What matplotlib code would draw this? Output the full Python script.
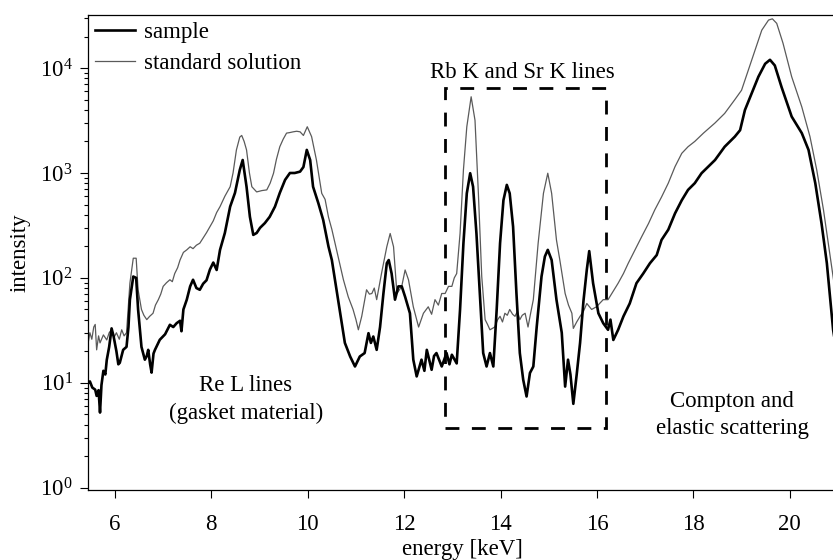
import math
import matplotlib
matplotlib.use("Agg")
import matplotlib.pyplot as plt
from matplotlib.patches import Rectangle
from matplotlib.ticker import FixedLocator, FuncFormatter, NullFormatter

plt.rcParams['font.family'] = ['Liberation Serif', 'DejaVu Serif']
plt.rcParams['mathtext.fontset'] = 'stix'

# sample spectrum (energy in keV, intensity in counts)
sample_e = [5.45, 5.48, 5.53, 5.59, 5.62, 5.66, 5.69, 5.72, 5.76, 5.80, 5.83, 5.88, 5.93, 5.97,
            6.03, 6.07, 6.10, 6.17, 6.24, 6.28, 6.31, 6.38, 6.44, 6.48, 6.55, 6.62, 6.66, 6.69,
            6.73, 6.76, 6.80, 6.83, 6.93, 7.04, 7.14, 7.21, 7.28, 7.35, 7.38, 7.42, 7.49, 7.56,
            7.62, 7.69, 7.76, 7.83, 7.90, 7.97, 8.04, 8.11, 8.18, 8.28, 8.39, 8.49, 8.59, 8.65,
            8.73, 8.80, 8.87, 8.94, 9.01, 9.11, 9.21, 9.32, 9.42, 9.53, 9.63, 9.73, 9.84, 9.91,
            9.98, 10.05, 10.11, 10.22, 10.32, 10.43, 10.50, 10.63, 10.77, 10.88, 10.98, 11.03,
            11.08, 11.18, 11.26, 11.31, 11.36, 11.43, 11.50, 11.57, 11.64, 11.68, 11.74, 11.81,
            11.88, 11.95, 12.02, 12.12, 12.19, 12.26, 12.36, 12.42, 12.47, 12.57, 12.62, 12.67,
            12.78, 12.88, 12.94, 12.99, 13.09, 13.16, 13.23, 13.30, 13.37, 13.43, 13.50, 13.57,
            13.64, 13.71, 13.78, 13.85, 13.92, 13.99, 14.06, 14.13, 14.19, 14.26, 14.33, 14.40,
            14.47, 14.54, 14.61, 14.68, 14.75, 14.85, 14.92, 14.98, 15.06, 15.16, 15.27, 15.34,
            15.40, 15.45, 15.51, 15.58, 15.65, 15.72, 15.79, 15.84, 15.92, 16.03, 16.13, 16.23,
            16.28, 16.34, 16.44, 16.55, 16.68, 16.82, 16.96, 17.10, 17.24, 17.34, 17.48, 17.62,
            17.76, 17.89, 18.03, 18.17, 18.24, 18.45, 18.65, 18.86, 18.97, 19.07, 19.21, 19.35,
            19.49, 19.59, 19.69, 19.83, 20.04, 20.25, 20.39, 20.53, 20.66, 20.77, 20.84, 20.90,
            20.97]
sample_i = [10, 10.3, 9.0, 8.6, 7.5, 8.5, 5.2, 9.5, 13, 12, 16.5, 22, 33, 28,
            20, 15, 15.5, 20.6, 22, 34, 62, 103, 100, 50, 22, 16.6, 18, 20.6,
            15, 12.5, 19, 20.6, 25.7, 29, 35.7, 34, 37, 39, 31, 50, 62, 83,
            96, 80, 77, 88, 95, 120, 140, 119, 185, 268, 478, 646, 1070, 1330,
            740, 382, 257, 268, 300, 333, 382, 478, 646, 860, 1000, 1000, 1030, 1140,
            1660, 1330, 740, 515, 357, 199, 148, 62, 24, 17.8, 14.3, 16,
            17.8, 19.2, 29.7, 24, 27.6, 20.6, 34, 71, 138, 148, 110, 62,
            83, 83, 66, 46, 16.6, 11.5, 16.6, 13, 20.6, 13.3, 18, 19.2,
            14.3, 19.2, 15, 18.5, 15.3, 50, 214, 640, 995, 740, 265, 71,
            19.2, 14.3, 19.2, 14.3, 50, 214, 550, 770, 640, 308, 71, 19.2,
            10.7, 7.4, 12.4, 14.3, 34, 103, 160, 185, 148, 62, 30, 9.2,
            16.6, 12, 6.3, 12, 24, 60, 120, 180, 89, 46, 37, 32,
            40, 25.6, 32, 43, 57, 89, 110, 138, 165, 230, 288, 412,
            550, 690, 800, 995, 1070, 1330, 1780, 2220, 2560, 3980, 5750, 8280,
            11000, 12000, 10600, 6600, 3450, 2400, 1660, 800, 330, 138, 62, 32,
            20]

# standard solution spectrum
std_e = [5.45, 5.48, 5.52, 5.56, 5.59, 5.62, 5.66, 5.69, 5.76, 5.83, 5.88, 5.93, 5.98, 6.03,
         6.09, 6.14, 6.19, 6.24, 6.31, 6.38, 6.44, 6.48, 6.55, 6.60, 6.66, 6.72, 6.79, 6.84,
         6.90, 6.95, 7.00, 7.07, 7.14, 7.19, 7.24, 7.30, 7.35, 7.42, 7.49, 7.56, 7.62, 7.69,
         7.76, 7.83, 7.90, 7.97, 8.04, 8.11, 8.18, 8.28, 8.39, 8.45, 8.52, 8.59, 8.63, 8.68,
         8.73, 8.79, 8.84, 8.94, 9.05, 9.15, 9.22, 9.29, 9.35, 9.42, 9.49, 9.56, 9.63, 9.70,
         9.77, 9.84, 9.91, 9.99, 10.08, 10.18, 10.29, 10.36, 10.43, 10.50, 10.63, 10.74,
         10.84, 10.94, 11.00, 11.05, 11.12, 11.22, 11.28, 11.33, 11.38, 11.43, 11.53, 11.64,
         11.71, 11.78, 11.85, 11.95, 12.02, 12.09, 12.19, 12.30, 12.40, 12.50, 12.57, 12.64,
         12.71, 12.78, 12.85, 12.92, 12.99, 13.04, 13.09, 13.16, 13.23, 13.30, 13.39, 13.47,
         13.54, 13.61, 13.68, 13.73, 13.78, 13.88, 13.94, 13.99, 14.04, 14.09, 14.14, 14.19,
         14.25, 14.30, 14.35, 14.40, 14.45, 14.51, 14.57, 14.62, 14.68, 14.78, 14.89, 14.98,
         15.06, 15.16, 15.23, 15.34, 15.41, 15.48, 15.51, 15.58, 15.65, 15.72, 15.79, 15.89,
         15.99, 16.13, 16.23, 16.34, 16.44, 16.55, 16.65, 16.79, 16.93, 17.07, 17.20, 17.34,
         17.48, 17.62, 17.76, 17.89, 18.03, 18.21, 18.45, 18.65, 18.86, 19.00, 19.14, 19.28,
         19.42, 19.56, 19.64, 19.73, 19.86, 20.04, 20.25, 20.42, 20.56, 20.70, 20.80, 20.90,
         20.97]
std_i = [25, 30, 26, 34, 36, 20.6, 28, 24, 28.6, 25.6, 30, 32, 27, 30,
         26, 32, 28, 30, 89, 154, 154, 77, 50, 44, 40, 43, 46, 55,
         62, 70, 83, 90, 96, 92, 110, 125, 148, 175, 185, 198, 190, 205,
         214, 240, 270, 308, 350, 420, 478, 600, 740, 1000, 1660, 2200, 2280, 2000,
         1660, 1000, 740, 660, 680, 690, 800, 995, 1350, 1780, 2100, 2400, 2430, 2470,
         2500, 2470, 2280, 2760, 2220, 1330, 640, 560, 380, 290, 160, 96,
         66, 50, 40, 32, 43, 77, 70, 71, 80, 62, 110, 198,
         265, 198, 71, 83, 119, 96, 53, 34, 46, 53, 45, 62,
         55, 71, 71, 83, 83, 100, 110, 265, 1070, 2760, 5330, 3180,
         640, 103, 40, 36, 32, 34, 40, 43, 38, 46, 44, 50,
         45, 43, 48, 40, 44, 46, 34, 45, 62, 214, 640, 995,
         640, 230, 148, 71, 55, 46, 33, 38, 43, 48, 57, 50,
         53, 62, 62, 75, 89, 110, 138, 185, 248, 330, 445, 590,
         800, 1150, 1540, 1780, 2000, 2400, 3000, 3700, 5000, 6150, 9550, 14800,
         23000, 28700, 29500, 26700, 17300, 8280, 4270, 2220, 1070, 445, 214, 103,
         60]

x_ticks = [6, 8, 10, 12, 14, 16, 18, 20]
y_major = [1, 10, 100, 1000, 10000]

FS = 16.5

fig = plt.figure(figsize=(8.33, 5.6), dpi=100)
ax = fig.add_axes([0.1056, 0.125, 0.8983, 0.848])

ax.plot(sample_e, sample_i, color='black', lw=1.9, label='sample', zorder=3)
ax.plot(std_e, std_i, color='#5a5a5a', lw=0.9, label='standard solution', zorder=2)

ax.set_yscale('log')
ax.set_xlim(5.44, 20.965)
ax.set_ylim(0.95, 3.2e4)

ax.set_xticks(x_ticks)
ax.yaxis.set_major_locator(FixedLocator(y_major))
ax.yaxis.set_major_formatter(FuncFormatter(lambda v, p: r'$\mathregular{10^{%d}}$' % round(math.log10(v))))
ax.yaxis.set_minor_locator(FixedLocator([m * 10 ** d for d in range(0, 5) for m in range(2, 10) if m * 10 ** d < 3.2e4]))
ax.yaxis.set_minor_formatter(NullFormatter())

ax.tick_params(axis='both', which='major', direction='out', length=6, width=0.8, labelsize=FS)
ax.tick_params(axis='y', which='minor', direction='out', length=3, width=0.8)
ax.tick_params(axis='x', pad=11)
ax.tick_params(axis='y', pad=5)
for s in ax.spines.values():
    s.set_linewidth(0.9)

ax.set_xlabel('energy [keV]', fontsize=FS, labelpad=3)
ax.set_ylabel('intensity', fontsize=FS, labelpad=7)

# dashed box around the Rb/Sr lines
ax.add_patch(Rectangle((12.85, 3.7), 16.18 - 12.85, 6400 - 3.7, fill=False,
                       ec='black', lw=2, ls=(0, (5, 4.5)), zorder=4))

ax.text(14.45, 9100, 'Rb K and Sr K lines', fontsize=FS, ha='center', va='center')
ax.text(8.72, 6.9, 'Re L lines\n(gasket material)', fontsize=FS, ha='center', va='center', linespacing=1.45)
ax.text(18.81, 4.9, 'Compton and\nelastic scattering', fontsize=FS, ha='center', va='center', linespacing=1.4)

ax.legend(loc='upper left', frameon=False, fontsize=FS, handlelength=1.75, handletextpad=0.4,
          labelspacing=0.45, borderaxespad=0.1, borderpad=0.2)

fig.savefig('out.png', dpi=100)
